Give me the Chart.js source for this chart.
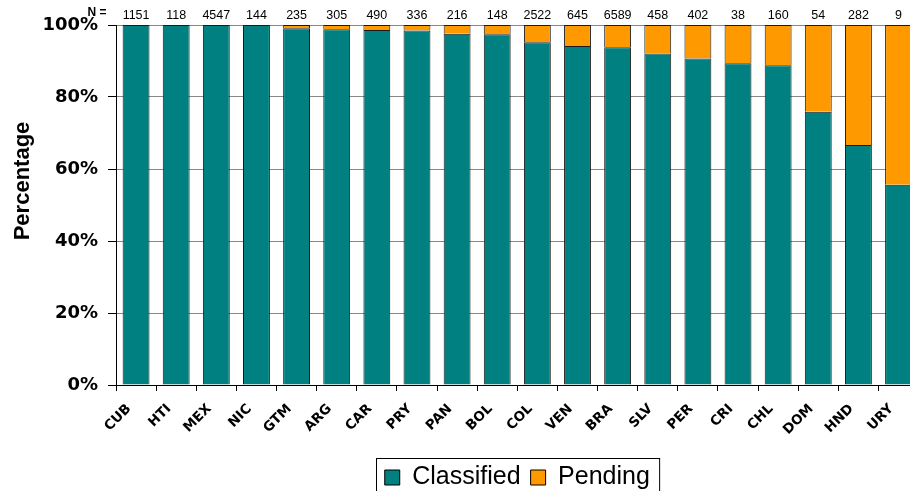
<!DOCTYPE html>
<html>
<head>
<meta charset="utf-8">
<script src="https://cdn.jsdelivr.net/npm/chart.js@4.4.1/dist/chart.umd.min.js"></script>
<style>
  html, body { margin: 0; padding: 0; overflow: hidden; background: #fff; }
  #wrap { width: 920px; height: 500px; }
</style>
</head>
<body>
<div id="wrap"><canvas id="myChart"></canvas></div>
<script>
'use strict';

// DATA
let countries = ['CUB', 'HTI', 'MEX', 'NIC', 'GTM', 'ARG', 'CAR', 'PRY', 'PAN', 'BOL',
  'COL', 'VEN', 'BRA', 'SLV', 'PER', 'CRI', 'CHL', 'DOM', 'HND', 'URY'];
let nValues = [1151, 118, 4547, 144, 235, 305, 490, 336, 216, 148,
  2522, 645, 6589, 458, 402, 38, 160, 54, 282, 9];
let classified = [100, 100, 100, 100, 99.1, 98.8, 98.6, 98.5, 97.6, 97.4,
  95.2, 94.2, 93.8, 92.1, 90.7, 89.4, 88.8, 75.9, 66.7, 55.6];
let pending = [0, 0, 0, 0, 0.9, 1.2, 1.4, 1.5, 2.4, 2.6,
  4.8, 5.8, 6.2, 7.9, 9.3, 10.6, 11.2, 24.1, 33.3, 44.4];
let yTicks = [0, 20, 40, 60, 80, 100];

const ARIAL = '"Liberation Sans", Arial, sans-serif';
const VERDANA = '"DejaVu Sans", Verdana, sans-serif';

// N = labels, y title and legend frame
const extras = {
  id: 'extras',
  afterDraw(chart) {
    const ctx = chart.ctx;
    const x = chart.scales.x;
    ctx.save();
    ctx.fillStyle = '#000';
    ctx.textAlign = 'center';
    ctx.textBaseline = 'middle';
    ctx.font = '12.5px ' + ARIAL;
    for (let i = 0; i < nValues.length; i++) {
      ctx.fillText(String(nValues[i]), x.getPixelForValue(i), 16);
    }
    ctx.font = 'bold 12px ' + ARIAL;
    ctx.fillText('N =', 97, 13);

    // y axis title
    ctx.save();
    ctx.translate(23, 181);
    ctx.rotate(-Math.PI / 2);
    ctx.font = 'bold 22px ' + ARIAL;
    ctx.fillText('Percentage', 0, 0);
    ctx.restore();

    // legend frame
    const boxes = chart.legend.legendHitBoxes;
    if (boxes && boxes.length) {
      const first = boxes[0];
      const last = boxes[boxes.length - 1];
      const left = first.left - 9;
      const right = last.left + last.width + 9;
      const top = first.top - 7;
      ctx.strokeStyle = '#000';
      ctx.lineWidth = 1;
      ctx.strokeRect(Math.round(left) + 0.5, Math.round(top) + 0.5, right - left, 60);
    }
    ctx.restore();
  }
};

const data = {
  labels: countries,
  datasets: [
    {
      label: 'Classified',
      data: classified,
      backgroundColor: '#008080',
      borderColor: '#1a1a1a',
      borderWidth: 1
    },
    {
      label: 'Pending',
      data: pending,
      backgroundColor: '#FF9900',
      borderColor: '#1a1a1a',
      borderWidth: 1
    }
  ]
};

const config = {
  type: 'bar',
  data: data,
  options: {
    responsive: false,
    animation: false,
    devicePixelRatio: 1,
    layout: { padding: { top: 25, right: 0, left: 0, bottom: 0 } },
    datasets: {
      bar: { barPercentage: 0.67, categoryPercentage: 1 }
    },
    scales: {
      x: {
        stacked: true,
        offset: true,
        grid: {
          offset: true,
          drawOnChartArea: false,
          drawTicks: true,
          tickLength: 6,
          color: '#000'
        },
        border: { color: '#000', width: 1 },
        ticks: {
          color: '#000',
          font: { family: VERDANA, size: 13.5, weight: 'bold' },
          minRotation: 45,
          maxRotation: 45,
          padding: 10,
          labelOffset: -7,
          autoSkip: false
        },
        afterFit(scale) { scale.height = 70; }
      },
      y: {
        stacked: true,
        min: 0,
        max: 100,
        afterBuildTicks(scale) {
          scale.ticks = yTicks.map(v => ({ value: v }));
        },
        grid: {
          color: '#888',
          lineWidth: 1,
          tickLength: 8,
          tickColor: '#000'
        },
        border: { color: '#000', width: 1 },
        ticks: {
          color: '#000',
          padding: 10,
          font: { family: VERDANA, size: 18, weight: 'bold' },
          callback: v => v + '%'
        },
        afterFit(scale) { scale.width = 116; }
      }
    },
    plugins: {
      legend: {
        position: 'bottom',
        fullSize: false,
        labels: {
          color: '#000',
          boxWidth: 15,
          boxHeight: 15,
          padding: 10,
          font: { family: ARIAL, size: 25 },
          generateLabels(chart) {
            return chart.data.datasets.map((ds, i) => ({
              text: ds.label,
              fillStyle: ds.backgroundColor,
              strokeStyle: '#000',
              lineWidth: 1,
              datasetIndex: i,
              hidden: false
            }));
          }
        }
      },
      tooltip: { enabled: false }
    }
  },
  plugins: [extras]
};

const canvas = document.getElementById('myChart');
canvas.width = 920;
canvas.height = 500;
canvas.style.width = '920px';
canvas.style.height = '500px';

const myChart = new Chart(canvas, config);
</script>
</body>
</html>
